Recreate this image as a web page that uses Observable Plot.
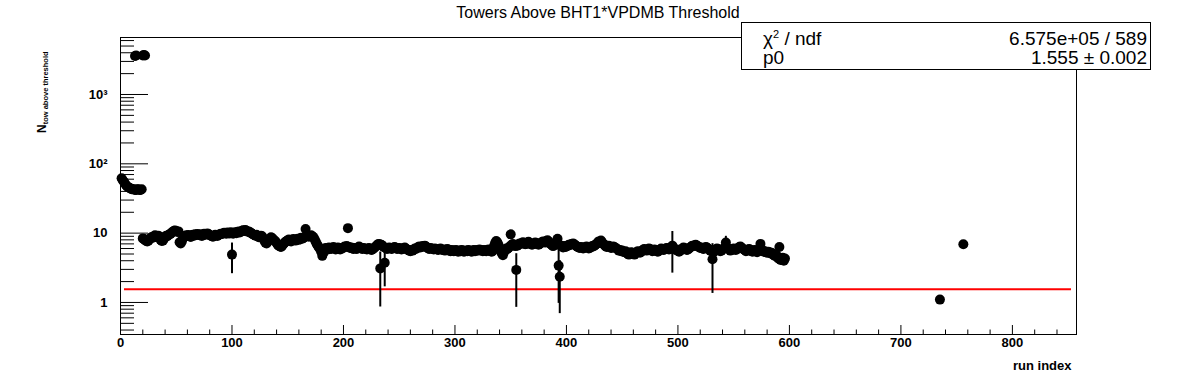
<!DOCTYPE html>
<html><head><meta charset="utf-8">
<script src="https://cdn.jsdelivr.net/npm/d3@7"></script>
<script src="https://cdn.jsdelivr.net/npm/@observablehq/plot@0.6"></script>
<style>
body{margin:0;background:#fff;font-family:"Liberation Sans",Arial,Helvetica,sans-serif;}
#wrap{position:relative;width:1196px;height:372px;overflow:hidden;background:#fff;}
#title{position:absolute;left:0;top:4px;width:1196px;text-align:center;font-size:16px;color:#000;}
#stats{position:absolute;left:741px;top:22px;width:408px;height:46px;border:1px solid #000;background:#fff;font-size:19px;color:#000;}
#stats .l{position:absolute;left:21px;}
#stats .r{position:absolute;right:3px;}
#stats sup{font-size:11px;vertical-align:7px;}
</style></head>
<body><div id="wrap"><div id="title">Towers Above BHT1*VPDMB Threshold</div>
<div id="stats">
<span class="l" style="top:5px">χ<sup>2</sup> / ndf</span><span class="r" style="top:5px">6.575e+05 / 589</span>
<span class="l" style="top:24px">p0</span><span class="r" style="top:24px">1.555 ± 0.002</span>
</div></div>
<script>
// early runs (1..19)
const lowStart = 1;
const lowValues = [62,58,55,52,49,47,46,45,44,43,43,43,42,42,43,43,42,42,43];
// very high runs
const highRuns = [13,14,20,21,22];
const highValues = [3600,3650,3650,3700,3650];
// main band, runs 20..596
const bandStart = 20;
const bandValues = [
8.4,8.2,8.0,7.7,7.6,7.8,8.1,8.5,8.8,8.6,
9.0,9.3,9.1,8.8,9.2,8.6,8.0,7.7,7.8,8.3,
8.9,9.2,9.0,9.4,9.6,9.8,10.2,10.5,10.8,10.9,
10.7,10.4,10.6,7.4,7.1,7.6,8.4,8.9,9.1,9.3,
9.2,9.4,9.0,8.8,9.3,9.5,9.2,9.6,9.4,9.7,
9.5,9.3,9.6,9.1,9.4,9.8,9.5,9.6,9.9,9.7,
9.4,9.2,9.0,8.9,9.2,9.5,9.3,9.1,9.4,9.6,
9.8,9.7,9.9,10.1,10.0,9.8,10.2,10.0,9.9,10.3,
4.9,9.8,10.1,10.3,10.0,10.4,10.6,10.2,10.5,10.8,
11.0,10.7,11.1,10.8,10.5,10.6,10.3,10.1,9.8,9.6,
9.4,9.2,9.5,9.0,8.7,8.9,9.2,9.0,8.4,7.8,
7.3,7.1,7.5,7.9,8.3,8.7,8.5,8.1,7.9,7.6,
7.2,6.8,6.6,6.4,6.3,6.6,6.9,7.2,7.5,7.7,
7.9,8.1,7.8,7.6,7.9,8.2,8.0,7.8,8.1,8.3,
8.0,8.4,8.6,8.3,8.5,8.7,11.5,9.0,9.2,8.9,
9.1,9.3,9.0,8.8,8.2,7.6,7.0,6.6,6.2,5.9,
5.4,4.7,5.2,5.8,6.1,6.0,5.8,6.2,6.0,5.9,
6.1,6.3,6.0,5.8,5.9,6.2,6.0,5.8,6.1,6.0,
6.2,6.4,6.3,6.5,11.8,6.3,6.1,6.2,6.0,5.9,
6.1,6.0,5.9,6.2,6.4,6.2,6.0,5.9,6.1,6.0,
5.9,5.8,6.0,6.1,5.9,5.7,5.8,6.0,6.2,6.4,
6.7,6.9,7.0,3.1,6.8,6.6,6.3,3.75,6.1,5.9,
6.0,6.2,6.1,5.9,6.0,6.2,6.3,6.1,5.9,6.0,
6.1,6.0,5.8,5.9,6.1,6.2,6.0,5.8,5.7,5.6,
5.5,5.7,5.6,5.8,6.0,5.9,6.1,6.3,6.4,6.2,
6.3,6.5,6.4,6.6,6.4,6.2,6.0,5.9,6.1,6.0,
5.9,5.8,6.0,5.9,5.8,5.7,5.9,6.0,5.8,5.7,
5.8,5.6,5.7,5.9,5.8,5.6,5.5,5.7,5.6,5.5,
5.6,5.7,5.5,5.4,5.6,5.5,5.7,5.6,5.4,5.5,
5.6,5.5,5.7,5.6,5.5,5.4,5.6,5.7,5.5,5.6,
5.7,5.6,5.8,5.7,5.6,5.5,5.7,5.6,5.5,5.7,
5.8,5.6,5.5,5.4,5.6,6.5,7.2,7.7,7.4,6.8,
6.2,5.6,5.1,4.8,5.3,5.7,6.0,5.9,6.1,6.4,
9.6,6.8,7.0,6.7,6.5,2.95,6.6,6.9,7.1,7.0,
7.2,7.4,7.1,6.9,7.0,7.3,7.5,7.2,7.0,6.8,
6.9,7.1,7.3,7.2,7.0,6.8,7.0,7.2,7.4,7.6,
7.5,7.3,7.7,7.9,7.6,7.2,6.9,6.7,6.5,6.7,
6.9,7.2,8.3,3.4,2.35,6.6,6.4,6.2,6.5,6.3,
6.4,6.6,6.8,6.7,6.9,7.0,7.1,6.9,6.7,6.5,
6.3,6.2,6.1,6.3,6.2,6.0,6.1,6.3,6.4,6.2,
6.0,6.1,6.3,6.5,6.4,6.6,6.8,7.0,7.3,7.6,
7.5,7.8,7.4,7.0,6.8,6.5,6.3,6.4,6.6,6.3,
6.1,6.2,6.4,6.3,6.1,6.0,5.8,5.6,5.7,5.5,
5.6,5.4,5.3,5.5,5.2,5.0,4.9,5.1,5.3,5.2,
5.0,4.9,5.1,5.3,5.5,5.4,5.2,5.4,5.6,5.8,
5.9,5.7,5.6,5.8,6.0,5.9,5.7,5.5,5.6,5.8,
5.7,5.5,5.4,5.6,5.8,6.0,5.9,5.7,5.8,6.0,
6.1,6.0,5.8,5.9,6.2,6.6,6.1,5.9,5.7,5.8,
5.6,5.4,5.6,5.8,6.0,6.2,6.1,5.9,5.7,5.8,
6.0,6.2,6.4,6.6,6.5,6.7,6.8,6.6,6.4,6.3,
6.1,6.2,6.0,5.9,6.1,6.3,6.2,6.0,5.8,5.6,
5.5,4.2,5.3,5.6,5.8,6.0,5.9,5.7,5.5,5.6,
5.8,6.0,6.1,7.3,6.2,6.0,5.8,5.6,5.7,5.9,
6.0,5.8,5.7,5.9,6.1,6.3,6.4,6.2,6.0,5.8,
5.7,5.5,5.6,5.8,5.9,5.7,5.5,5.4,5.6,5.7,
5.5,5.3,5.5,5.7,7.0,5.8,5.6,5.4,5.5,5.3,
5.2,5.4,5.3,5.1,5.2,5.0,4.8,4.7,4.9,4.6,
4.3,6.3,4.1,4.2,4.4,4.0,4.3
];
// isolated late runs
const lateRuns = [735, 756];
const lateValues = [1.1, 6.9];
// points with visible error bars
const errRuns = [100, 233, 237, 355, 393, 394, 495, 531, 543];
const errValues = [4.9, 3.1, 3.75, 2.95, 3.4, 2.35, 6.6, 4.2, 7.3];
const errSizes = [2.3, 2.24, 2.07, 2.1, 2.43, 1.66, 3.95, 2.85, 1.7];
// fit
const p0 = 1.555;
const fitRange = [3.6, 853];
// axes
const xMajor = [0,100,200,300,400,500,600,700,800];
const xMinor = [20,40,60,80,120,140,160,180,220,240,260,280,320,340,360,380,420,440,460,480,520,540,560,580,620,640,660,680,720,740,760,780,820,840];
const yMajor = [1, 10, 100, 1000];
const yTickLabels = ["1", "10", "10²", "10³"];
const yMinor = [0.4,0.5,0.6,0.7,0.8,0.9,2,3,4,5,6,7,8,9,20,30,40,50,60,70,80,90,200,300,400,500,600,700,800,900,2000,3000,4000,5000,6000];

const points = [];
lowValues.forEach((v, i) => points.push({run: lowStart + i, v}));
highRuns.forEach((r, i) => points.push({run: r, v: highValues[i]}));
bandValues.forEach((v, i) => points.push({run: bandStart + i, v}));
lateRuns.forEach((r, i) => points.push({run: r, v: lateValues[i]}));
const errs = errRuns.map((r, i) => ({run: r, lo: errValues[i] - errSizes[i], hi: errValues[i] + errSizes[i]}));

const font = "Liberation Sans, Arial, Helvetica, sans-serif";
const plot = Plot.plot({
  width: 1196, height: 372,
  marginLeft: 120, marginRight: 120, marginTop: 37, marginBottom: 38,
  style: {fontFamily: font, background: "transparent", color: "black"},
  x: {domain: [0, 857.5]},
  y: {type: "log", domain: [0.345, 6640]},
  marks: [
    Plot.ruleY([{y: p0, x1: fitRange[0], x2: fitRange[1]}], {y: "y", x1: "x1", x2: "x2", stroke: "#ff0000", strokeWidth: 2}),
    Plot.ruleX(errs, {x: "run", y1: "lo", y2: "hi", stroke: "black", strokeWidth: 2}),
    Plot.dot(points, {x: "run", y: "v", r: 5, fill: "black", stroke: "none"}),
    Plot.axisX({ticks: xMajor, tickSize: -9, fill: "none", label: null}),
    Plot.axisX({ticks: xMinor, tickSize: -4.5, fill: "none", label: null}),
    Plot.axisX({ticks: xMajor, tickSize: 0, tickPadding: 3, tickFormat: d => String(d), fontSize: 13, fontWeight: "bold", label: null}),
    Plot.axisY({ticks: yMajor, tickSize: -28, fill: "none", label: null}),
    Plot.axisY({ticks: yMinor, tickSize: -14, fill: "none", label: null}),
    Plot.axisY({ticks: yMajor, tickSize: 0, tickPadding: 13, tickFormat: d => yTickLabels[yMajor.indexOf(d)], fontSize: 13, fontWeight: "bold", label: null}),
    Plot.text(["run index"], {text: d => d, frameAnchor: "bottom-right", dx: -5, dy: 31, textAnchor: "end", lineAnchor: "middle", fontSize: 13, fontWeight: "bold"}),
    Plot.frame({stroke: "black", strokeWidth: 1})
  ]
});
plot.style.position = "absolute";
plot.style.left = "0px";
plot.style.top = "0px";
const wrap = document.getElementById("wrap");
wrap.insertBefore(plot, wrap.firstChild);

const yl = d3.select(plot).append("text")
  .attr("transform", "translate(45.5,133) rotate(-90)")
  .attr("text-anchor", "start")
  .attr("font-family", font)
  .attr("font-weight", "bold")
  .attr("fill", "black");
yl.append("tspan").attr("font-size", 12).text("N");
yl.append("tspan").attr("font-size", 7.5).attr("dy", 2).text("tow above threshold");
</script>
</body></html>
